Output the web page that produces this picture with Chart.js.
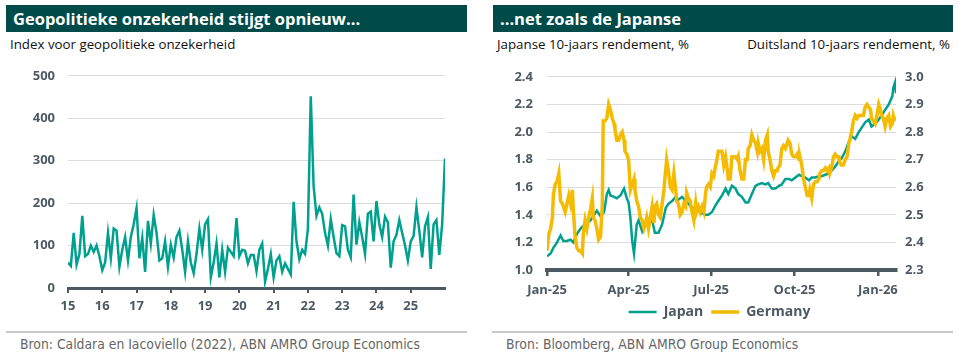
<!DOCTYPE html>
<html>
<head>
<meta charset="utf-8">
<script src="https://cdn.jsdelivr.net/npm/chart.js@4.4.1/dist/chart.umd.min.js"></script>
<style>
  body { margin: 0; width: 959px; height: 354px; background: #fff; position: relative; overflow: hidden; font-family: 'Open Sans', sans-serif; }
  .hdr { position: absolute; top: 5px; height: 27px; background: #004b4a; color: #fff; font-weight: 700; font-size: 16.5px; line-height: 27px; padding-left: 7px; box-sizing: border-box; }
  .sub { position: absolute; top: 35px; font-size: 13.3px; color: #111; white-space: nowrap; }
  .src { position: absolute; top: 331px; height: 22px; border-top: 2px solid #c8c8c8; box-sizing: border-box; font-family: 'Liberation Sans Narrow', 'DejaVu Sans Condensed', sans-serif; font-size: 13.8px; color: #666; padding: 3px 0 0 14px; }
  canvas { position: absolute; }
</style>
</head>
<body>
<div class="hdr" style="left:6px;width:461px">Geopolitieke onzekerheid stijgt opnieuw...</div>
<div class="hdr" style="left:493px;width:460px">...net zoals de Japanse</div>
<div class="sub" style="left:10px">Index voor geopolitieke onzekerheid</div>
<div class="sub" style="left:497px">Japanse 10-jaars rendement, %</div>
<div class="sub" style="right:9px">Duitsland 10-jaars rendement, %</div>
<canvas id="gprChart" width="475" height="265" style="left:0;top:55px"></canvas>
<canvas id="yieldChart" width="479" height="274" style="left:480px;top:55px"></canvas>
<div class="src" style="left:6px;width:461px">Bron: Caldara en Iacoviello (2022), ABN AMRO Group Economics</div>
<div class="src" style="left:492px;width:461px">Bron: Bloomberg, ABN AMRO Group Economics</div>

<script>
// Geopolitical risk index, monthly from Jan 2015
const gprIndex = [
  60, 52, 130, 55, 80, 170, 75, 80, 100, 85, 100, 75,
  42, 60, 130, 70, 140, 135, 50, 90, 120, 65, 120, 150,
  188, 70, 118, 38, 158, 105, 172, 130, 65, 70, 110, 50,
  102, 72, 120, 135, 90, 38, 110, 60, 35, 80, 140, 90,
  150, 162, 25, 60, 105, 25, 90, 38, 95, 85, 75, 165,
  75, 90, 88, 58, 78, 78, 40, 90, 105, 15, 45, 80,
  25, 65, 75, 38, 58, 45, 32, 203, 110, 68, 90, 80,
  140, 452, 240, 170, 190, 175, 130, 100, 162, 120, 82, 75,
  148, 145, 90, 72, 220, 102, 155, 120, 80, 175, 180, 110,
  205, 150, 120, 168, 155, 48, 110, 125, 160, 130, 100, 65,
  110, 122, 190, 135, 72, 145, 167, 45, 150, 160, 78, 150,
  305
];
const yearLabels = ['15', '16', '17', '18', '19', '20', '21', '22', '23', '24', '25'];

// 10y yields, x = days since 1 Jan 2025
const jpDays = [
  0, 4, 7, 11, 15, 18, 22, 26, 29, 33, 37, 40, 44, 48, 51, 55, 59, 63, 66, 68,
  70, 74, 77, 81, 85, 88, 90, 92, 94, 96, 99, 101, 105, 108, 112, 116, 119, 123, 127, 131,
  134, 138, 142, 145, 149, 153, 156, 160, 164, 167, 171, 175, 178, 182, 186, 189, 193, 197, 200, 204,
  208, 211, 215, 219, 222, 226, 230, 233, 237, 241, 244, 248, 252, 256, 259, 263, 267, 270, 274, 278,
  281, 285, 289, 292, 296, 300, 303, 307, 311, 314, 318, 322, 325, 329, 333, 336, 340, 344, 347, 351,
  355, 358, 362, 366, 369, 373, 377, 381, 382, 384, 385
];
const jpYield = [
  1.10, 1.12, 1.16, 1.20, 1.25, 1.21, 1.21, 1.22, 1.20, 1.26, 1.30, 1.32, 1.34, 1.36, 1.39, 1.43, 1.39, 1.42, 1.55, 1.58,
  1.54, 1.53, 1.52, 1.54, 1.59, 1.52, 1.49, 1.38, 1.21, 1.12, 1.33, 1.36, 1.28, 1.32, 1.34, 1.36, 1.27, 1.27, 1.33, 1.45,
  1.48, 1.50, 1.53, 1.51, 1.53, 1.50, 1.48, 1.45, 1.45, 1.44, 1.41, 1.40, 1.40, 1.42, 1.47, 1.50, 1.54, 1.59, 1.55, 1.61,
  1.59, 1.55, 1.53, 1.49, 1.49, 1.55, 1.61, 1.62, 1.63, 1.62, 1.63, 1.59, 1.59, 1.61, 1.62, 1.66, 1.66, 1.65, 1.67, 1.69,
  1.68, 1.67, 1.65, 1.67, 1.67, 1.68, 1.68, 1.69, 1.70, 1.72, 1.75, 1.79, 1.81, 1.86, 1.93, 1.97, 1.95, 2.00, 2.03, 2.07,
  2.09, 2.04, 2.06, 2.09, 2.12, 2.16, 2.20, 2.26, 2.32, 2.36, 2.28
];
const deDays = [
  0, 2, 4, 6, 7, 9, 11, 13, 15, 17, 18, 20, 22, 24, 26, 28, 29, 31, 33, 35,
  37, 39, 40, 42, 44, 46, 48, 50, 51, 53, 55, 57, 59, 61, 62, 64, 66, 68, 70, 72,
  74, 75, 77, 79, 81, 83, 85, 86, 88, 90, 92, 94, 96, 97, 99, 101, 103, 105, 107, 108,
  110, 112, 114, 116, 118, 119, 121, 123, 125, 127, 129, 130, 132, 134, 136, 138, 140, 142, 143, 145,
  147, 149, 151, 153, 154, 156, 158, 160, 162, 164, 165, 167, 169, 171, 173, 175, 176, 178, 180, 182,
  184, 186, 187, 189, 191, 193, 195, 197, 199, 200, 202, 204, 206, 208, 210, 211, 213, 215, 217, 219,
  221, 222, 224, 226, 228, 230, 232, 233, 235, 237, 239, 241, 243, 244, 246, 248, 250, 252, 254, 255,
  257, 259, 261, 263, 265, 266, 268, 270, 272, 274, 276, 278, 279, 281, 283, 285, 287, 289, 290, 292,
  294, 296, 298, 300, 301, 303, 305, 307, 309, 311, 312, 314, 316, 318, 320, 322, 323, 325, 327, 329,
  331, 333, 334, 336, 338, 340, 342, 344, 346, 347, 349, 351, 353, 355, 357, 358, 360, 362, 364, 366,
  368, 369, 371, 373, 375, 377, 379, 381, 382, 384
];
const deYield = [
  2.37, 2.43, 2.45, 2.49, 2.57, 2.61, 2.62, 2.65, 2.55, 2.54, 2.53, 2.51, 2.54, 2.57, 2.54, 2.59, 2.52, 2.42, 2.38, 2.37,
  2.37, 2.36, 2.43, 2.48, 2.45, 2.49, 2.52, 2.56, 2.49, 2.48, 2.45, 2.41, 2.42, 2.53, 2.84, 2.84, 2.85, 2.90, 2.88, 2.85,
  2.83, 2.81, 2.77, 2.77, 2.79, 2.80, 2.77, 2.73, 2.72, 2.70, 2.59, 2.61, 2.63, 2.59, 2.55, 2.53, 2.49, 2.48, 2.45, 2.46,
  2.49, 2.45, 2.49, 2.53, 2.47, 2.53, 2.54, 2.50, 2.49, 2.54, 2.59, 2.63, 2.70, 2.66, 2.60, 2.59, 2.65, 2.59, 2.55, 2.54,
  2.50, 2.51, 2.54, 2.53, 2.58, 2.56, 2.55, 2.51, 2.48, 2.54, 2.51, 2.53, 2.51, 2.53, 2.51, 2.58, 2.60, 2.61, 2.60, 2.65,
  2.64, 2.68, 2.69, 2.73, 2.73, 2.73, 2.68, 2.71, 2.66, 2.63, 2.63, 2.71, 2.71, 2.71, 2.70, 2.71, 2.66, 2.63, 2.63, 2.70,
  2.70, 2.74, 2.75, 2.79, 2.77, 2.76, 2.73, 2.76, 2.73, 2.74, 2.70, 2.77, 2.79, 2.73, 2.70, 2.66, 2.64, 2.66, 2.66, 2.67,
  2.68, 2.74, 2.75, 2.74, 2.76, 2.77, 2.76, 2.72, 2.71, 2.71, 2.72, 2.70, 2.71, 2.68, 2.63, 2.60, 2.57, 2.57, 2.59, 2.56,
  2.61, 2.62, 2.62, 2.63, 2.65, 2.66, 2.66, 2.67, 2.66, 2.67, 2.65, 2.67, 2.71, 2.72, 2.71, 2.71, 2.69, 2.68, 2.68, 2.70,
  2.71, 2.76, 2.77, 2.80, 2.84, 2.86, 2.85, 2.86, 2.86, 2.86, 2.86, 2.89, 2.90, 2.89, 2.88, 2.85, 2.84, 2.83, 2.86, 2.90,
  2.88, 2.86, 2.85, 2.82, 2.85, 2.86, 2.82, 2.83, 2.86, 2.84
];
const quarterDays = [0, 90, 181, 273, 365];
const quarterLabels = ['Jan-25', 'Apr-25', 'Jul-25', 'Oct-25', 'Jan-26'];

const teal = '#00a08f';
const yellow = '#f5bb00';
const axisDark = '#4d5963';
const gridGrey = '#dcdcdc';
const tickFont = { family: 'Open Sans', size: 13, weight: 'bold' };

// Left: GPR index
new Chart(document.getElementById('gprChart'), {
  type: 'line',
  data: {
    datasets: [{
      data: gprIndex.map((v, i) => ({ x: i, y: v })),
      borderColor: teal,
      borderWidth: 2.5,
      pointRadius: 0,
      tension: 0
    }]
  },
  options: {
    responsive: false,
    animation: false,
    layout: { padding: { top: 20, right: 30, left: 0, bottom: 0 } },
    plugins: { legend: { display: false }, tooltip: { enabled: false } },
    scales: {
      x: {
        type: 'linear',
        min: 0,
        max: gprIndex.length - 1,
        afterBuildTicks: scale => { scale.ticks = yearLabels.map((_, i) => ({ value: i * 12 })); },
        afterFit: scale => { scale.height = 32; },
        ticks: {
          callback: (v, i) => yearLabels[i],
          color: axisDark,
          font: tickFont,
          padding: 5,
          maxRotation: 0
        },
        grid: { drawOnChartArea: false, drawTicks: true, tickLength: 5, color: axisDark, lineWidth: 2 },
        border: { display: true, color: axisDark, width: 3 }
      },
      y: {
        min: 0,
        max: 500,
        afterFit: scale => { scale.width = 68; },
        ticks: { stepSize: 100, color: axisDark, font: tickFont, padding: 13 },
        grid: { drawTicks: false, color: ctx => ctx.tick.value === 0 ? 'transparent' : gridGrey },
        border: { display: false }
      }
    }
  }
});

// Right: Japan vs Germany 10y
new Chart(document.getElementById('yieldChart'), {
  type: 'line',
  data: {
    datasets: [{
      label: 'Japan',
      data: jpDays.map((d, i) => ({ x: d, y: jpYield[i] })),
      borderColor: teal,
      backgroundColor: teal,
      borderWidth: 2.5,
      pointRadius: 0,
      tension: 0,
      yAxisID: 'y',
      order: 1
    }, {
      label: 'Germany',
      data: deDays.map((d, i) => ({ x: d, y: deYield[i] })),
      borderColor: yellow,
      backgroundColor: yellow,
      borderWidth: 3.5,
      pointRadius: 0,
      tension: 0,
      yAxisID: 'y2',
      order: 0
    }]
  },
  options: {
    responsive: false,
    animation: false,
    layout: { padding: { top: 20, right: 0, left: 0, bottom: 0 } },
    plugins: {
      tooltip: { enabled: false },
      legend: {
        position: 'bottom',
        labels: {
          usePointStyle: true,
          pointStyle: 'line',
          pointStyleWidth: 28,
          padding: 8,
          color: axisDark,
          font: { family: 'Open Sans', size: 14, weight: 'bold' },
          sort: (a, b) => a.datasetIndex - b.datasetIndex
        }
      }
    },
    scales: {
      x: {
        type: 'linear',
        min: 0,
        max: 385,
        afterBuildTicks: scale => { scale.ticks = quarterDays.map(v => ({ value: v })); },
        afterFit: scale => { scale.height = 27; },
        ticks: {
          callback: (v, i) => quarterLabels[i],
          color: axisDark,
          font: tickFont,
          padding: 6,
          maxRotation: 0
        },
        grid: { drawOnChartArea: false, drawTicks: true, tickLength: 6, color: axisDark, lineWidth: 2.5 },
        border: { display: true, color: axisDark, width: 4 }
      },
      y: {
        position: 'left',
        min: 1.0,
        max: 2.4,
        afterFit: scale => { scale.width = 67; },
        ticks: { stepSize: 0.2, color: axisDark, font: tickFont, padding: 14, callback: v => v.toFixed(1) },
        grid: { drawTicks: false, color: ctx => ctx.tick.value <= 1.0001 ? 'transparent' : gridGrey },
        border: { display: false }
      },
      y2: {
        position: 'right',
        min: 2.3,
        max: 3.0,
        afterFit: scale => { scale.width = 63; },
        ticks: { stepSize: 0.1, color: axisDark, font: tickFont, padding: 9, callback: v => v.toFixed(1) },
        grid: { drawOnChartArea: false, drawTicks: false },
        border: { display: false }
      }
    }
  }
});
</script>
</body>
</html>
